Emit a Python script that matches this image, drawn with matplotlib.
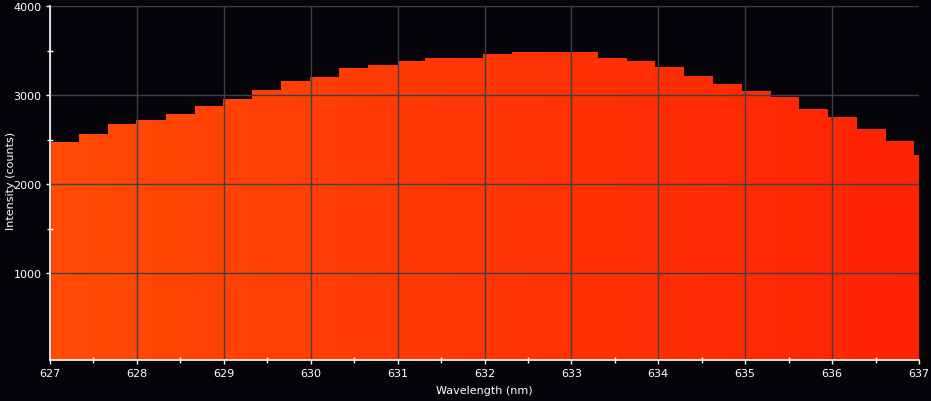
import numpy as np
import matplotlib
matplotlib.use('Agg')
from matplotlib import pyplot as plt
from matplotlib.patches import Polygon
from matplotlib.colors import LinearSegmentedColormap
from matplotlib.ticker import FixedLocator, MultipleLocator

# left edge of each spectrometer bin (nm) and its intensity (counts)
bin_start = [627.00, 627.33, 627.67, 627.99, 628.33, 628.67, 628.99, 629.32,
             629.66, 629.99, 630.33, 630.66, 631.00, 631.32, 631.65, 631.98,
             632.32, 632.65, 632.98, 633.31, 633.64, 633.96, 634.30, 634.63,
             634.96, 635.30, 635.62, 635.95, 636.29, 636.62, 636.94]
intensity = [2475, 2565, 2678, 2723, 2790, 2880, 2958, 3060,
             3161, 3206, 3307, 3340, 3385, 3419, 3419, 3464,
             3487, 3487, 3487, 3419, 3385, 3318, 3217, 3127,
             3048, 2981, 2846, 2756, 2621, 2487, 2330]
bin_end = 637.27

x_ticks = [627, 628, 629, 630, 631, 632, 633, 634, 635, 636, 637]
y_ticks = [1000, 2000, 3000, 4000]

bg = '#050408'
fg = 'white'
grid_col = '#3c4148'

fig = plt.figure(figsize=(9.31, 4.02), dpi=100, facecolor=bg)
ax = fig.add_axes([50 / 931, 41 / 402, 869 / 931, 354 / 402], facecolor=bg)

ymin, ymax = 26, 4000

# outline of the step area
edges = list(bin_start) + [bin_end]
verts = [(edges[0], ymin)]
for i, v in enumerate(intensity):
    verts.append((edges[i], v))
    verts.append((edges[i + 1], v))
verts.append((edges[-1], ymin))
area = Polygon(verts, closed=True, facecolor='none', edgecolor='none')
ax.add_patch(area)

# colour follows wavelength: orange on the left, red on the right
spec_cmap = LinearSegmentedColormap.from_list('spec', ['#ff4b05', '#ff3504', '#ff2205'])
grad = np.linspace(0, 1, 256).reshape(1, -1)
img = ax.imshow(grad, cmap=spec_cmap, aspect='auto', extent=[627, bin_end, ymin, ymax],
                origin='lower', zorder=1, interpolation='bilinear')
img.set_clip_path(area)

ax.set_xlim(627, 637)
ax.set_ylim(ymin, ymax)

ax.set_xticks(x_ticks)
ax.set_yticks(y_ticks)
ax.xaxis.set_minor_locator(MultipleLocator(0.5))
ax.yaxis.set_minor_locator(FixedLocator([1500, 2500, 3500]))

ax.set_axisbelow(False)
ax.grid(True, which='major', color=grid_col, linewidth=1.0, zorder=2)
# no gridline on the right border
ax.get_xgridlines()[-1].set_visible(False)

for s in ['top', 'right']:
    ax.spines[s].set_visible(False)
for s in ['left', 'bottom']:
    ax.spines[s].set_color(fg)
    ax.spines[s].set_linewidth(1.2)
    ax.spines[s].set_zorder(3)

ax.tick_params(which='major', direction='out', length=3, width=1, colors=fg,
               labelsize=8, pad=3)
ax.tick_params(which='minor', direction='inout', length=5, width=1, colors=fg)

ax.set_xlabel('Wavelength (nm)', color=fg, fontsize=8)
ax.set_ylabel('Intensity (counts)', color=fg, fontsize=8)
ax.xaxis.set_label_coords(0.5, -0.072)
ax.yaxis.set_label_coords(-0.039, 0.51)

fig.savefig('out.png', dpi=100, facecolor=bg)
